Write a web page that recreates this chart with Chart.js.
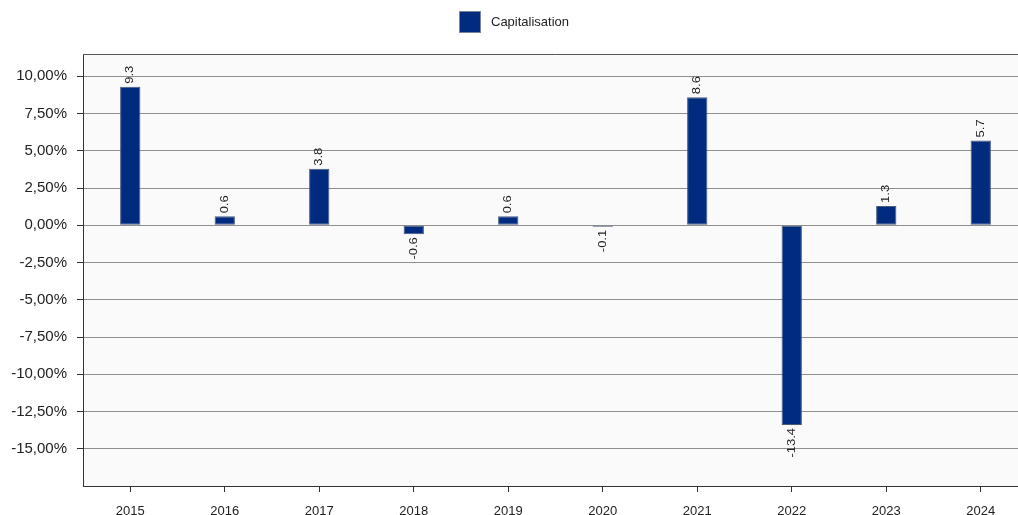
<!DOCTYPE html>
<html>
<head>
<meta charset="utf-8">
<script src="https://cdn.jsdelivr.net/npm/chart.js@4/dist/chart.umd.min.js"></script>
<style>
  html, body { margin: 0; padding: 0; background: #ffffff; overflow: hidden; }
  #wrap { position: relative; width: 1028px; height: 515px; }
</style>
</head>
<body>
<div id="wrap"><canvas id="chart" width="1028" height="515"></canvas></div>
<script>
// Annual performance of the "Capitalisation" share class
const years = ['2015', '2016', '2017', '2018', '2019', '2020', '2021', '2022', '2023', '2024'];
const performance = [9.3, 0.6, 3.8, -0.6, 0.6, -0.1, 8.6, -13.4, 1.3, 5.7];
const seriesName = 'Capitalisation';
const yTickValues = [-15, -12.5, -10, -7.5, -5, -2.5, 0, 2.5, 5, 7.5, 10];

const FONT = '"Liberation Sans", Arial, sans-serif';
const BAR_COLOR = '#002b7f';
const TEXT_COLOR = '#222222';

// Light plot background plus the top frame line
const plotFrame = {
  id: 'plotFrame',
  beforeDraw(chart) {
    const { ctx, chartArea: a } = chart;
    ctx.save();
    ctx.fillStyle = '#fafafa';
    ctx.fillRect(a.left, a.top, a.right - a.left, a.bottom - a.top);
    ctx.restore();
  },
  afterDraw(chart) {
    const { ctx, chartArea: a } = chart;
    ctx.save();
    ctx.strokeStyle = '#555555';
    ctx.lineWidth = 1;
    ctx.beginPath();
    ctx.moveTo(a.left, a.top + 0.5);
    ctx.lineTo(a.right, a.top + 0.5);
    ctx.stroke();
    ctx.restore();
  }
};

// Legend drawn centred above the plot
const topLegend = {
  id: 'topLegend',
  afterDraw(chart) {
    const { ctx } = chart;
    const ds = chart.data.datasets[0];
    ctx.save();
    ctx.font = '13px ' + FONT;
    const box = 22, gap = 10;
    const x0 = 459;
    const y0 = 11;
    ctx.fillStyle = ds.backgroundColor;
    ctx.fillRect(x0, y0, box, box);
    ctx.strokeStyle = '#7a869e';
    ctx.lineWidth = 1;
    ctx.strokeRect(x0 + 0.5, y0 + 0.5, box - 1, box - 1);
    ctx.fillStyle = TEXT_COLOR;
    ctx.textBaseline = 'middle';
    ctx.textAlign = 'left';
    ctx.fillText(ds.label, x0 + box + gap, y0 + box / 2);
    ctx.restore();
  }
};

// Vertical value labels at the end of each bar (slightly stretched text)
const barValues = {
  id: 'barValues',
  afterDatasetsDraw(chart) {
    const { ctx } = chart;
    const meta = chart.getDatasetMeta(0);
    const data = chart.data.datasets[0].data;
    ctx.save();
    ctx.font = '11px ' + FONT;
    ctx.fillStyle = TEXT_COLOR;
    ctx.textBaseline = 'middle';
    meta.data.forEach((bar, i) => {
      const v = data[i];
      const txt = v.toFixed(1);
      ctx.save();
      if (v >= 0) {
        ctx.translate(bar.x, bar.y - 3);
        ctx.rotate(-Math.PI / 2);
        ctx.scale(1.18, 1);
        ctx.textAlign = 'left';
      } else {
        ctx.translate(bar.x, bar.y + 3);
        ctx.rotate(-Math.PI / 2);
        ctx.scale(1.18, 1);
        ctx.textAlign = 'right';
      }
      ctx.fillText(txt, 0, 0);
      ctx.restore();
    });
    ctx.restore();
  }
};

new Chart(document.getElementById('chart'), {
  type: 'bar',
  data: {
    labels: years,
    datasets: [{
      label: seriesName,
      data: performance,
      backgroundColor: BAR_COLOR,
      borderColor: '#4a5a7e',
      borderWidth: 1,
      borderSkipped: false,
      categoryPercentage: 1.0,
      barPercentage: 0.215
    }]
  },
  options: {
    responsive: false,
    animation: false,
    layout: { padding: { top: 54, left: 0, right: 0, bottom: 0 } },
    plugins: {
      legend: { display: false },
      tooltip: { enabled: false }
    },
    scales: {
      x: {
        offset: true,
        grid: {
          offset: false,
          drawOnChartArea: false,
          drawTicks: true,
          tickLength: 6,
          tickColor: '#333333'
        },
        border: { display: true, color: '#333333', width: 1 },
        ticks: {
          padding: 12,
          color: TEXT_COLOR,
          font: { family: FONT, size: 13 },
          maxRotation: 0
        },
        afterFit(scale) { scale.height = 29; }
      },
      y: {
        min: -17.5,
        max: 11.5,
        afterBuildTicks(scale) {
          scale.ticks = yTickValues.map(v => ({ value: v }));
        },
        grid: {
          color: '#8f8f8f',
          lineWidth: 1,
          drawTicks: true,
          tickLength: 6,
          tickColor: '#333333'
        },
        border: { display: true, color: '#333333', width: 1 },
        ticks: {
          padding: 10,
          color: TEXT_COLOR,
          font: { family: FONT, size: 15 },
          callback: v => v.toFixed(2).replace('.', ',') + '%'
        },
        afterFit(scale) { scale.width = 83; }
      }
    }
  },
  plugins: [plotFrame, topLegend, barValues]
});
</script>
</body>
</html>
